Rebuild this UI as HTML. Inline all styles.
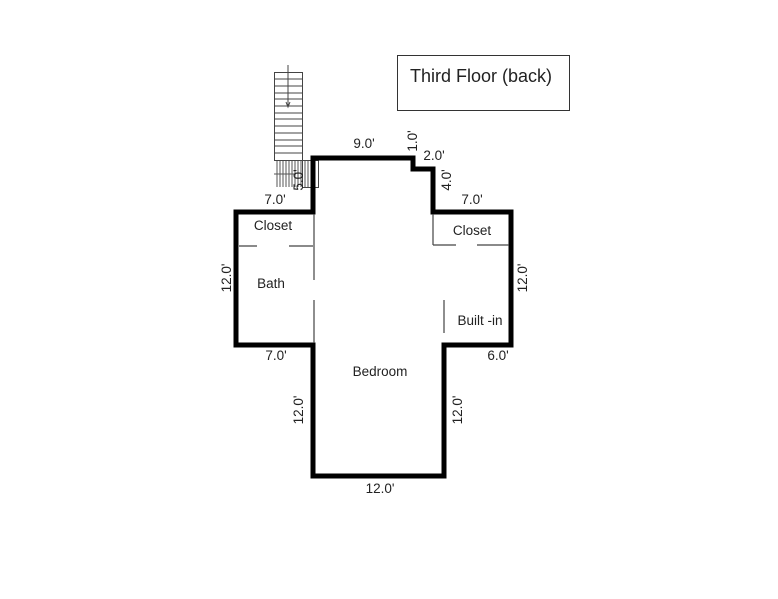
<!DOCTYPE html>
<html><head><style>
html,body{margin:0;padding:0;background:#fff;}
svg{display:block;}
text{font-family:"Liberation Sans",Arial,sans-serif;fill:#222;}
</style></head><body>
<svg width="778" height="599" viewBox="0 0 778 599" xmlns="http://www.w3.org/2000/svg">
<rect x="0" y="0" width="778" height="599" fill="#fff"/>
<rect x="397.5" y="55.5" width="172" height="55" fill="none" stroke="#333" stroke-width="1"/>
<text x="481" y="82" font-size="18" text-anchor="middle">Third Floor (back)</text>
<g stroke="#444" stroke-width="1" fill="none">
<rect x="274.5" y="72.5" width="28" height="88"/>
<line x1="275" y1="79" x2="302" y2="79"/><line x1="275" y1="86" x2="302" y2="86"/>
<line x1="275" y1="93" x2="302" y2="93"/><line x1="275" y1="99" x2="302" y2="99"/>
<line x1="275" y1="106" x2="302" y2="106"/><line x1="275" y1="113" x2="302" y2="113"/>
<line x1="275" y1="119" x2="302" y2="119"/><line x1="275" y1="126" x2="302" y2="126"/>
<line x1="275" y1="133" x2="302" y2="133"/><line x1="275" y1="140" x2="302" y2="140"/>
<line x1="275" y1="146" x2="302" y2="146"/><line x1="275" y1="153" x2="302" y2="153"/>
<line x1="288" y1="65" x2="288" y2="107"/>
<path d="M286 102 L288 107 L290 102"/>
<rect x="302.5" y="160.5" width="16" height="27"/>
</g>
<g stroke="#555" stroke-width="1">
<line x1="277" y1="161" x2="277" y2="187"/><line x1="280" y1="161" x2="280" y2="187"/>
<line x1="283" y1="161" x2="283" y2="187"/><line x1="286" y1="161" x2="286" y2="187"/>
<line x1="289" y1="161" x2="289" y2="187"/><line x1="292" y1="161" x2="292" y2="187"/>
<line x1="295" y1="161" x2="295" y2="187"/><line x1="298" y1="161" x2="298" y2="187"/>
<line x1="301" y1="161" x2="301" y2="187"/>
<line x1="305" y1="161" x2="305" y2="187"/><line x1="308" y1="161" x2="308" y2="187"/>
<line x1="311" y1="161" x2="311" y2="187"/><line x1="314" y1="161" x2="314" y2="187"/>
<line x1="274" y1="174" x2="296" y2="174"/>
</g>
<path d="M236 212 L313 212 L313 158 L413 158 L413 169 L433 169 L433 212 L511 212 L511 345 L444 345 L444 476 L313 476 L313 345 L236 345 Z" fill="none" stroke="#000" stroke-width="5" stroke-linejoin="miter"/>
<g stroke="#444" stroke-width="1.2">
<line x1="314" y1="214" x2="314" y2="280"/>
<line x1="314" y1="300" x2="314" y2="343"/>
<line x1="239" y1="246" x2="257" y2="246"/>
<line x1="289" y1="246" x2="313" y2="246"/>
<line x1="433" y1="214" x2="433" y2="245"/>
<line x1="433" y1="245" x2="456" y2="245"/>
<line x1="477" y1="245" x2="509" y2="245"/>
<line x1="444" y1="300" x2="444" y2="333"/>
</g>
<g font-size="13.5">
<text x="273" y="230" text-anchor="middle">Closet</text>
<text x="472" y="235" text-anchor="middle">Closet</text>
<text x="271" y="288" text-anchor="middle">Bath</text>
<text x="480" y="325" text-anchor="middle">Built -in</text>
<text x="380" y="376" text-anchor="middle">Bedroom</text>
<text x="364" y="148" text-anchor="middle">9.0'</text>
<text x="434" y="160" text-anchor="middle">2.0'</text>
<text x="275" y="204" text-anchor="middle">7.0'</text>
<text x="472" y="204" text-anchor="middle">7.0'</text>
<text x="276" y="360" text-anchor="middle">7.0'</text>
<text x="498" y="360" text-anchor="middle">6.0'</text>
<text x="380" y="493" text-anchor="middle">12.0'</text>
<text transform="translate(417,141) rotate(-90)" text-anchor="middle">1.0'</text>
<text transform="translate(451,180) rotate(-90)" text-anchor="middle">4.0'</text>
<text transform="translate(303,180) rotate(-90)" text-anchor="middle">5.0'</text>
<text transform="translate(231,278) rotate(-90)" text-anchor="middle">12.0'</text>
<text transform="translate(527,278) rotate(-90)" text-anchor="middle">12.0'</text>
<text transform="translate(303,410) rotate(-90)" text-anchor="middle">12.0'</text>
<text transform="translate(462,410) rotate(-90)" text-anchor="middle">12.0'</text>
</g>
</svg>
</body></html>
